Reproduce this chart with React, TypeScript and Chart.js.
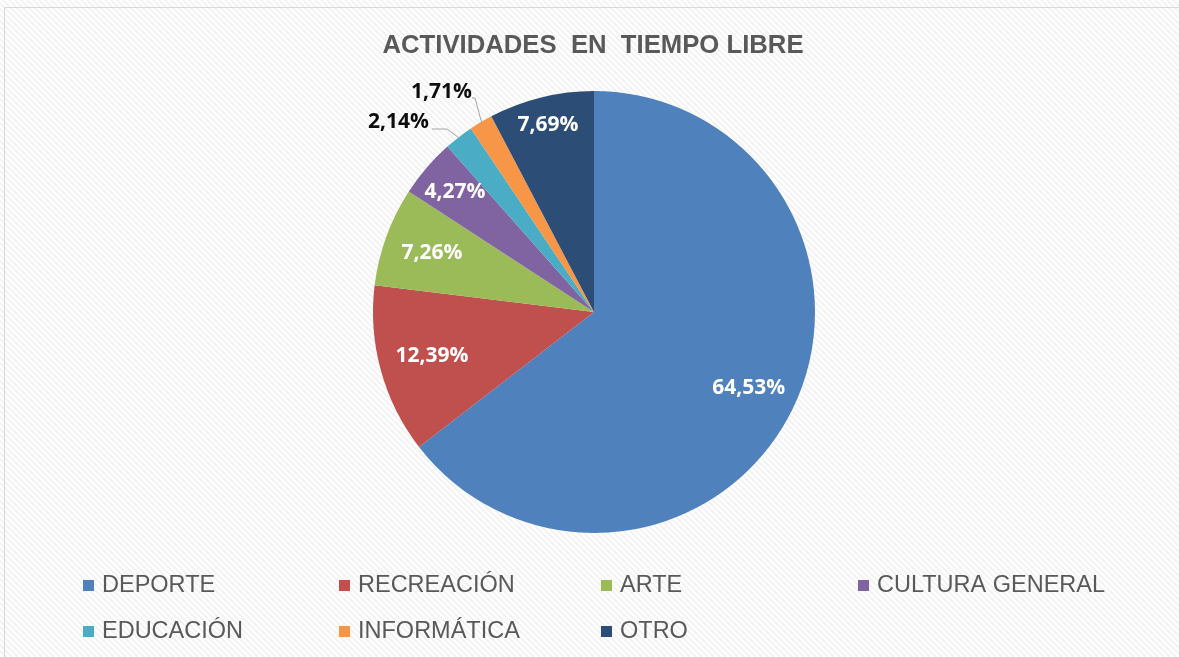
import React, { useEffect, useRef } from "react";
import { Chart, registerables } from "chart.js";

Chart.register(...registerables);

const TITLE = "ACTIVIDADES  EN  TIEMPO LIBRE";
const categories = ["DEPORTE", "RECREACIÓN", "ARTE", "CULTURA GENERAL", "EDUCACIÓN", "INFORMÁTICA", "OTRO"];
const values = [64.53, 12.39, 7.26, 4.27, 2.14, 1.71, 7.69];
const colors = ["#4F81BD", "#C0504D", "#9BBB59", "#8064A2", "#4BACC6", "#F79646", "#2C4D75"];

const fmt = (v: number) => v.toFixed(2).replace(".", ",") + "%";

// label layout (styles)
const insideFactor: (number | null)[] = [0.78, 0.76, 0.78, 0.83, null, null, 0.87];
const outsideLabels: Record<number, { tx: number; ty: number; pts: [number, number][] }> = {
  4: { tx: -165, ty: -190, pts: [[-162, -183], [-147, -183]] },
  5: { tx: -122, ty: -220, pts: [[-122, -214], [-119, -214]] },
};
const legendCols = [85, 341, 603, 860];
const legendRows = [585, 631];

const bgPlugin = {
  id: "bg",
  beforeDraw(chart: any) {
    const { ctx, width, height } = chart;
    ctx.save();
    ctx.fillStyle = "#ffffff";
    ctx.fillRect(0, 0, width, height);
    ctx.strokeStyle = "#f3f3f3";
    ctx.lineWidth = 2;
    ctx.beginPath();
    for (let k = -height; k < width + height; k += 6) {
      ctx.moveTo(k, 0);
      ctx.lineTo(k + height, height);
    }
    ctx.stroke();
    ctx.strokeStyle = "#d9d9d9";
    ctx.lineWidth = 1;
    ctx.beginPath();
    ctx.moveTo(4.5, height + 5);
    ctx.lineTo(4.5, 7.5);
    ctx.lineTo(width + 5, 7.5);
    ctx.stroke();
    ctx.restore();
  },
};

const overlayPlugin = {
  id: "overlay",
  afterDraw(chart: any) {
    const { ctx } = chart;
    const meta = chart.getDatasetMeta(0);
    ctx.save();
    // title
    ctx.fillStyle = "#595959";
    ctx.font = "bold 25.7px 'Liberation Sans', Arial, sans-serif";
    ctx.textAlign = "center";
    ctx.textBaseline = "middle";
    ctx.fillText(TITLE, 593, 46);

    // data labels
    ctx.font = "bold 21px 'Open Sans', 'Noto Sans', sans-serif";
    meta.data.forEach((arc: any, i: number) => {
      const { x, y, startAngle, endAngle, outerRadius } = arc.getProps(
        ["x", "y", "startAngle", "endAngle", "outerRadius"],
        true
      );
      const mid = (startAngle + endAngle) / 2;
      const f = insideFactor[i];
      const text = fmt(values[i]);
      if (f != null) {
        ctx.fillStyle = "#ffffff";
        ctx.textAlign = "center";
        ctx.fillText(text, x + Math.cos(mid) * outerRadius * f, y + Math.sin(mid) * outerRadius * f);
      } else {
        const o = outsideLabels[i];
        if (!o) return;
        const ex = x + Math.cos(mid) * (outerRadius - 2);
        const ey = y + Math.sin(mid) * (outerRadius - 2);
        ctx.strokeStyle = "#a6a6a6";
        ctx.lineWidth = 1;
        ctx.beginPath();
        ctx.moveTo(x + o.pts[0][0], y + o.pts[0][1]);
        for (let k = 1; k < o.pts.length; k++) ctx.lineTo(x + o.pts[k][0], y + o.pts[k][1]);
        ctx.lineTo(ex, ey);
        ctx.stroke();
        ctx.fillStyle = "#0d0d0d";
        ctx.textAlign = "right";
        ctx.fillText(text, x + o.tx, y + o.ty);
      }
    });

    // legend
    ctx.font = "23.5px 'Liberation Sans', Arial, sans-serif";
    ctx.textAlign = "left";
    categories.forEach((c, i) => {
      const col = i % 4;
      const row = Math.floor(i / 4);
      const lx = legendCols[col];
      const ly = legendRows[row];
      ctx.fillStyle = colors[i];
      ctx.fillRect(lx - 2, ly - 5, 11, 11);
      ctx.fillStyle = "#595959";
      ctx.fillText(c, lx + 17, ly + 1);
    });
    ctx.restore();
  },
};

export default function App() {
  const ref = useRef<HTMLCanvasElement | null>(null);
  useEffect(() => {
    if (!ref.current) return;
    const chart = new Chart(ref.current, {
      type: "pie",
      data: {
        labels: categories,
        datasets: [
          {
            data: values,
            backgroundColor: colors,
            borderWidth: 0,
            radius: 221,
          } as any,
        ],
      },
      options: {
        animation: false,
        responsive: false,
        layout: { padding: { left: 9, right: 0, top: 0, bottom: 33 } },
        plugins: {
          legend: { display: false },
          title: { display: false },
          tooltip: { enabled: false },
        },
      },
      plugins: [bgPlugin, overlayPlugin],
    });
    return () => chart.destroy();
  }, []);
  return (
    <div style={{ position: "fixed", left: 0, top: 0, width: 1179, height: 657, overflow: "hidden" }}>
      <canvas ref={ref} width={1179} height={657} style={{ display: "block" }} />
    </div>
  );
}
